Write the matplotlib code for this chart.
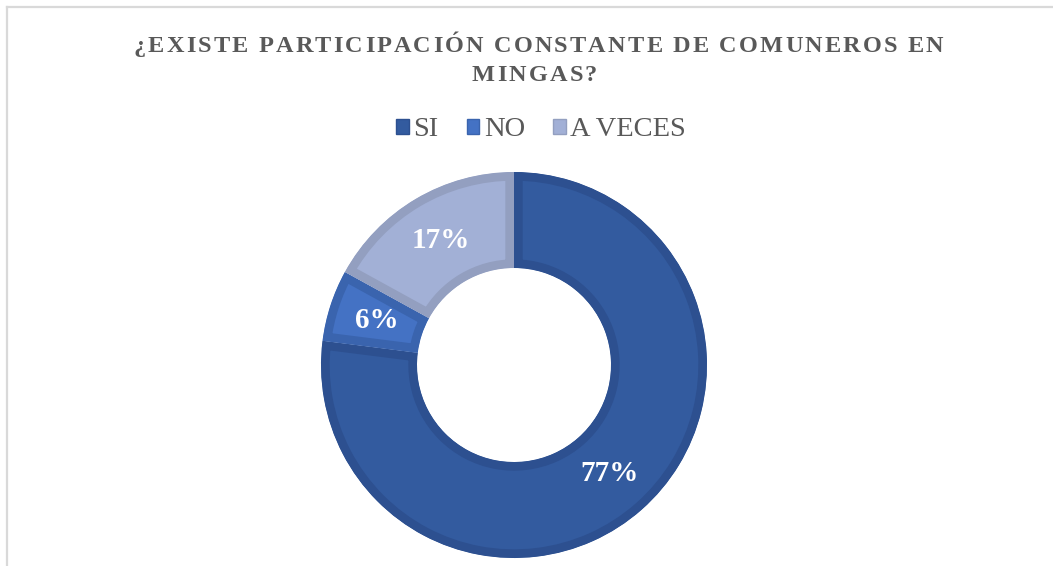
import matplotlib
matplotlib.use("Agg")
import matplotlib.pyplot as plt
from matplotlib.patches import Patch
from matplotlib.lines import Line2D

# --------------------------------------------------------------------------- #
# data
# --------------------------------------------------------------------------- #
TITLE_LINES = ["¿EXISTE PARTICIPACIÓN CONSTANTE DE COMUNEROS EN", "MINGAS?"]
categories = ["SI", "NO", "A VECES"]
values = [77, 6, 17]
fill_colors = ["#335B9F", "#4472C4", "#A2B0D6"]
edge_colors = ["#2D5090", "#3A64AE", "#939FC0"]

W, H, DPI = 1053, 566, 100
GRAY = "#595959"

fig = plt.figure(figsize=(W / DPI, H / DPI), dpi=DPI)
ax = fig.add_axes([0, 0, 1, 1])
ax.axis("off")

# donut (pixel coords, y up)
wedges, texts, autotexts = ax.pie(
    values, colors=fill_colors, startangle=90, counterclock=False,
    center=(514, H - 365), radius=193, pctdistance=0.75,
    autopct="%.0f%%", wedgeprops=dict(width=96, linewidth=0),
    textprops=dict(color="white", fontsize=21, fontweight="bold",
                   family="Liberation Serif"),
)
ax.set_xlim(0, W)
ax.set_ylim(0, H)
ax.set_aspect("auto")
# inner darker rim: stroke clipped to the wedge itself
for w, ec in zip(wedges, edge_colors):
    w.set_edgecolor(ec)
    w.set_linewidth(12.5)
    w.set_clip_path(w)
    w.set_clip_on(True)


# title with letter spacing (drawn char by char)
def spaced_text(line, y_px, size, tracking_px, shift_px):
    renderer = fig.canvas.get_renderer()
    kw = dict(fontsize=size, fontweight="bold", family="Liberation Serif",
              color=GRAY, va="baseline", ha="left")
    widths = []
    for ch in line:
        if ch == " ":
            widths.append(size * DPI / 72 * 0.25)
            continue
        t = fig.text(0, 0, ch, **kw)
        widths.append(t.get_window_extent(renderer).width)
        t.remove()
    total = sum(widths) + tracking_px * (len(line) - 1)
    x = (W - total) / 2 + shift_px
    for ch, wd in zip(line, widths):
        if ch != " ":
            fig.text(x / W, 1 - y_px / H, ch, **kw)
        x += wd + tracking_px


spaced_text(TITLE_LINES[0], 52, 17.5, 2.2, 12)
spaced_text(TITLE_LINES[1], 81, 17.5, 2.2, 8)

# legend
handles = [Patch(facecolor=fc, edgecolor=ec, linewidth=1.0)
           for fc, ec in zip(fill_colors, edge_colors)]
leg = ax.legend(handles, categories, ncol=3, frameon=False,
                loc="center", bbox_to_anchor=(541 / W, 1 - 130 / H),
                bbox_transform=fig.transFigure,
                prop=dict(family="Liberation Serif", size=20.5),
                handlelength=0.45, handleheight=0.45, handletextpad=0.15,
                columnspacing=1.0, labelcolor=GRAY)

# chart-area border (left and top visible)
fig.add_artist(Line2D([7 / W, 7 / W], [0, 1 - 7 / H], color="#D9D9D9",
                      linewidth=1.6, transform=fig.transFigure))
fig.add_artist(Line2D([7 / W, 1], [1 - 7 / H, 1 - 7 / H], color="#D9D9D9",
                      linewidth=1.6, transform=fig.transFigure))

fig.savefig("out.png", dpi=DPI)
